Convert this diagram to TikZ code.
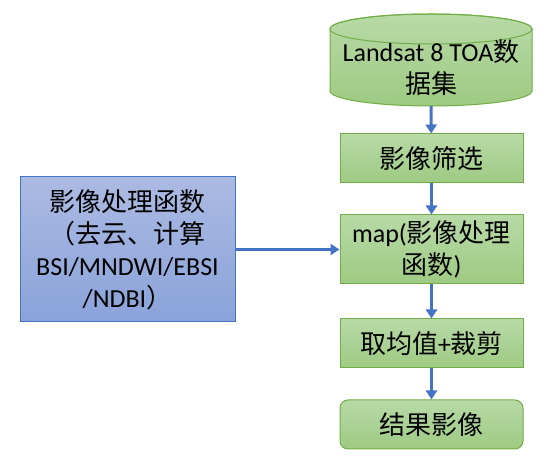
\documentclass[tikz,border=0pt]{standalone}
\usepackage{fontspec}
\setmainfont{Carlito}
\newfontfamily\zhfont{Noto Sans CJK SC}
\usetikzlibrary{arrows.meta}
\definecolor{gborder}{RGB}{112,173,71}
\definecolor{gtop}{RGB}{184,218,167}
\definecolor{gbot}{RGB}{158,202,130}
\definecolor{bborder}{RGB}{68,114,196}
\definecolor{btop}{RGB}{171,186,226}
\definecolor{bbot}{RGB}{138,163,218}
\definecolor{arr}{RGB}{68,114,196}
\begin{document}
\begin{tikzpicture}[x=1pt,y=1pt,
 txt/.style={font=\fontsize{26}{32}\selectfont, align=center, text=black},
 gbox/.style={txt, draw=gborder, line width=1pt, top color=gtop, bottom color=gbot, minimum width=183pt, inner sep=0pt},
 bbox/.style={txt, draw=bborder, line width=1pt, top color=btop, bottom color=bbot, minimum width=215pt, minimum height=145pt, inner sep=0pt},
 flow/.style={draw=arr, line width=3pt, -{Triangle[width=11pt,length=9pt]}}]
\useasboundingbox (0,0) rectangle (555,468);
% cylinder
\path[top color=gtop, bottom color=gbot, draw=gborder, line width=1pt]
  (330,439) -- (330,377) arc (180:360:101 and 15) -- (532,439) arc (0:180:101 and 15) -- cycle;
\draw[gborder, line width=1pt] (431,439) ellipse (101 and 15);
\node[txt] (cyl) at (431,400) {Landsat 8 TOA{\zhfont 数}\\{\zhfont 据集}};
\coordinate (cylb) at (431,362);
% boxes
\node[gbox, minimum height=49pt] (s1) at (431.5,309.5) {\zhfont 影像筛选};
\node[gbox, minimum height=69pt] (s2) at (431.5,218.5) {map({\zhfont 影像处理}\\{\zhfont 函数})};
\node[gbox, minimum height=49pt] (s3) at (431.5,124.5) {{\zhfont 取均值}+{\zhfont 裁剪}};
\node[gbox, minimum height=49pt, rounded corners=8pt] (s4) at (431.5,43.5) {\zhfont 结果影像};
\node[bbox] (f) at (127.5,218.5) {{\zhfont 影像处理函数}\\{\zhfont （去云、计算}\\BSI/MNDWI/EBSI\\/NDBI{\zhfont ）}};
% arrows
\draw[flow] (cylb) -- (s1);
\draw[flow] (s1) -- (s2);
\draw[flow] (s2) -- (s3);
\draw[flow] (s3) -- (s4);
\draw[flow] (f) -- (s2);
\end{tikzpicture}
\end{document}
